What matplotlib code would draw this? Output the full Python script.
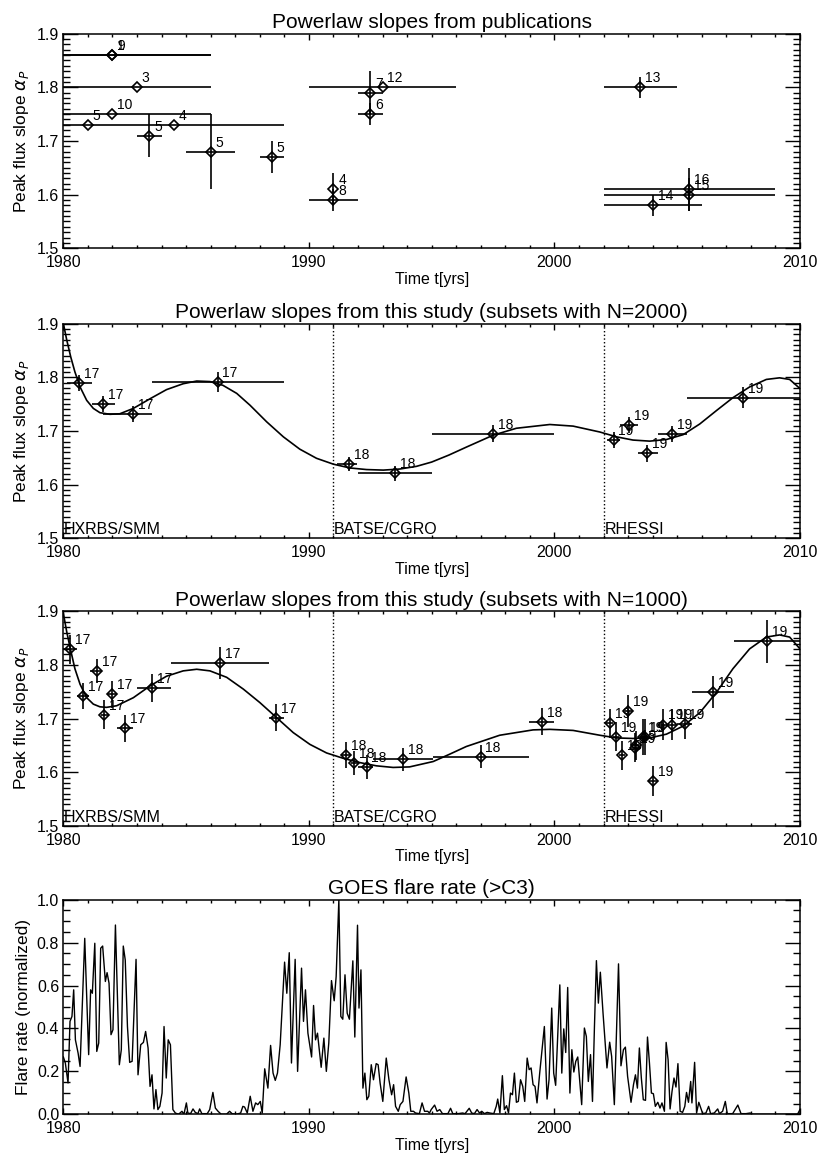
import numpy as np
import matplotlib
matplotlib.use('Agg')
import matplotlib.pyplot as plt
from matplotlib.ticker import MultipleLocator, FormatStrFormatter

plt.rcParams['font.family'] = ['Liberation Sans', 'DejaVu Sans']
plt.rcParams['mathtext.fontset'] = 'dejavusans'

# ---- panel 1: slopes from publications ----
pub_year = [1981.0, 1982.0, 1982.0, 1982.0, 1983.0, 1983.5, 1984.5, 1986.0, 1988.5,
            1991.0, 1991.0, 1992.5, 1992.5, 1993.0, 2003.5, 2004.0, 2005.5, 2005.5]
pub_slope = [1.73, 1.86, 1.86, 1.75, 1.80, 1.71, 1.73, 1.68, 1.67,
             1.61, 1.59, 1.79, 1.75, 1.80, 1.80, 1.58, 1.61, 1.60]
pub_xerr = [0.0, 4.0, 4.0, 4.0, 3.0, 0.5, 4.5, 1.0, 0.5,
            0.0, 1.0, 0.5, 0.5, 3.0, 1.5, 2.0, 3.5, 3.5]
pub_yerr = [0.0, 0.0, 0.0, 0.0, 0.0, 0.04, 0.0, 0.07, 0.03,
            0.03, 0.02, 0.04, 0.02, 0.0, 0.02, 0.02, 0.04, 0.03]
pub_ref = ['5', '9', '1', '10', '3', '5', '4', '5', '5',
           '4', '8', '7', '6', '12', '13', '14', '16', '15']

# ---- panel 2: this study, N=2000 subsets ----
n2_year = [1980.64, 1981.63, 1982.85, 1986.28, 1991.63, 1993.5, 1997.5,
           2002.41, 2003.04, 2003.78, 2004.8, 2007.7]
n2_slope = [1.790, 1.750, 1.732, 1.791, 1.639, 1.621, 1.695,
            1.683, 1.711, 1.658, 1.694, 1.762]
n2_tstart = [1980.14, 1981.15, 1981.63, 1983.6, 1991.13, 1992.0, 1995.0,
             2002.14, 2002.66, 2003.4, 2004.2, 2005.4]
n2_tend = [1981.15, 1982.1, 1983.6, 1989.0, 1991.97, 1995.0, 2000.0,
           2002.66, 2003.4, 2004.2, 2005.4, 2010.0]
n2_yerr = [0.015, 0.015, 0.015, 0.018, 0.013, 0.014, 0.016,
           0.015, 0.015, 0.015, 0.015, 0.019]
n2_ref = ['17', '17', '17', '17', '18', '18', '18', '19', '19', '19', '19', '19']

fit2_year = [1980.0, 1980.14, 1980.3, 1980.47, 1980.68, 1980.95, 1981.22, 1981.49, 1981.9,
             1982.3, 1982.85, 1983.53, 1984.2, 1984.88, 1985.43, 1985.97, 1986.5, 1987.06,
             1987.6, 1988.28, 1988.96, 1989.63, 1990.31, 1991.0, 1991.67, 1992.35, 1993.03,
             1993.7, 1994.38, 1995.0, 1995.7, 1996.42, 1997.5, 1998.45, 1999.81, 2000.76,
             2001.85, 2002.53, 2003.2, 2003.88, 2004.56, 2005.24, 2005.92, 2006.6, 2007.27,
             2007.95, 2008.63, 2009.17, 2009.58, 2010.0]
fit2_slope = [1.900, 1.869, 1.838, 1.810, 1.782, 1.757, 1.742, 1.734, 1.731,
              1.732, 1.742, 1.760, 1.777, 1.788, 1.793, 1.792, 1.785, 1.770,
              1.748, 1.717, 1.689, 1.666, 1.649, 1.638, 1.631, 1.628, 1.627,
              1.629, 1.634, 1.642, 1.655, 1.670, 1.692, 1.705, 1.712, 1.709,
              1.698, 1.689, 1.683, 1.681, 1.684, 1.693, 1.713, 1.738, 1.762,
              1.782, 1.796, 1.799, 1.796, 1.779]

# ---- panel 3: this study, N=1000 subsets ----
n1_year = [1980.27, 1980.79, 1981.36, 1981.67, 1981.99, 1982.52, 1983.62, 1986.38, 1988.68,
           1991.51, 1991.85, 1992.35, 1993.84, 1996.99, 1999.51,
           2002.25, 2002.52, 2002.75, 2003.01, 2003.28, 2003.33, 2003.62, 2003.68, 2004.01,
           2004.42, 2004.8, 2005.3, 2006.45, 2008.65]
n1_slope = [1.829, 1.742, 1.789, 1.707, 1.745, 1.682, 1.757, 1.804, 1.702,
            1.632, 1.617, 1.610, 1.624, 1.629, 1.694,
            1.691, 1.666, 1.632, 1.714, 1.646, 1.650, 1.666, 1.666, 1.583,
            1.689, 1.689, 1.690, 1.750, 1.844]
n1_tstart = [1980.0, 1980.55, 1981.1, 1981.55, 1981.8, 1982.2, 1983.0, 1984.37, 1988.39,
             1991.3, 1991.7, 1992.0, 1992.6, 1995.05, 1998.97,
             2002.1, 2002.4, 2002.65, 2002.88, 2003.15, 2003.15, 2003.5, 2003.5, 2003.8,
             2004.2, 2004.6, 2005.0, 2005.6, 2007.3]
n1_tend = [1980.55, 1981.05, 1981.55, 1981.8, 1982.2, 1982.85, 1984.37, 1988.39, 1989.0,
           1991.7, 1992.0, 1992.6, 1995.05, 1998.97, 2000.0,
           2002.4, 2002.65, 2002.88, 2003.15, 2003.45, 2003.45, 2003.8, 2003.8, 2004.2,
           2004.6, 2005.0, 2005.6, 2007.3, 2010.0]
n1_yerr = [0.027, 0.025, 0.022, 0.027, 0.025, 0.025, 0.026, 0.030, 0.026,
           0.024, 0.022, 0.023, 0.022, 0.021, 0.025,
           0.027, 0.027, 0.027, 0.030, 0.027, 0.027, 0.033, 0.033, 0.028,
           0.028, 0.028, 0.028, 0.030, 0.040]
n1_ref = ['17'] * 9 + ['18'] * 6 + ['19'] * 14

fit1_year = [1980.0, 1980.14, 1980.3, 1980.47, 1980.68, 1980.95, 1981.22, 1981.49, 1981.76,
             1982.17, 1982.85, 1983.53, 1984.2, 1984.88, 1985.43, 1985.97, 1986.65, 1987.33,
             1988.0, 1988.68, 1989.36, 1990.04, 1990.72, 1991.4, 1992.08, 1992.75, 1993.43,
             1994.1, 1995.06, 1995.7, 1996.41, 1997.77, 1999.13, 1999.81, 2000.76, 2001.85,
             2002.53, 2003.2, 2003.88, 2004.56, 2005.24, 2005.92, 2006.6, 2007.27, 2007.95,
             2008.63, 2009.17, 2009.58, 2010.0]
fit1_slope = [1.896, 1.861, 1.827, 1.793, 1.764, 1.739, 1.727, 1.722, 1.721,
              1.724, 1.739, 1.761, 1.779, 1.789, 1.792, 1.789, 1.777, 1.755,
              1.730, 1.702, 1.674, 1.652, 1.636, 1.626, 1.618, 1.612, 1.609,
              1.610, 1.620, 1.633, 1.648, 1.669, 1.679, 1.680, 1.678, 1.669,
              1.664, 1.663, 1.664, 1.671, 1.686, 1.711, 1.749, 1.793, 1.830,
              1.852, 1.856, 1.852, 1.830]

instr_names = ['HXRBS/SMM', 'BATSE/CGRO', 'RHESSI']
instr_start = [1980.0, 1991.0, 2002.0]

# ---- panel 4: GOES flare rate (vertices of the monthly curve) ----
goes_year = [
    1980.00, 1980.08, 1980.19, 1980.27, 1980.35, 1980.42, 1980.49, 1980.60, 1980.68, 1980.87,
    1981.03, 1981.11, 1981.18, 1981.28, 1981.36, 1981.44, 1981.52, 1981.60, 1981.71, 1981.78,
    1981.86, 1981.94, 1982.02, 1982.12, 1982.28, 1982.36, 1982.44, 1982.52, 1982.61, 1982.70,
    1982.80, 1982.96, 1983.04, 1983.15, 1983.26, 1983.35, 1983.45, 1983.53, 1983.61, 1983.69,
    1983.77, 1983.85, 1983.93, 1984.02, 1984.10, 1984.19, 1984.27, 1984.36, 1984.46, 1984.56,
    1984.69, 1984.83, 1984.91, 1985.01, 1985.07, 1985.18, 1985.28, 1985.37, 1985.48, 1985.55,
    1985.64, 1985.86, 1985.96, 1986.09, 1986.19, 1986.30, 1986.43, 1986.64, 1986.77, 1986.87,
    1987.04, 1987.22, 1987.31, 1987.38, 1987.49, 1987.61, 1987.72, 1987.83, 1987.92, 1988.02,
    1988.10, 1988.20, 1988.33, 1988.44, 1988.54, 1988.63, 1988.72, 1988.83, 1989.01, 1989.10,
    1989.20, 1989.29, 1989.44, 1989.54, 1989.70, 1989.78, 1989.86, 1989.96, 1990.11, 1990.19,
    1990.27, 1990.35, 1990.50, 1990.61, 1990.71, 1990.81, 1990.92, 1991.03, 1991.11, 1991.22,
    1991.30, 1991.38, 1991.47, 1991.56, 1991.65, 1991.79, 1991.87, 1991.98, 1992.04, 1992.12,
    1992.20, 1992.28, 1992.36, 1992.44, 1992.54, 1992.63, 1992.74, 1992.82, 1992.90, 1993.01,
    1993.15, 1993.26, 1993.37, 1993.45, 1993.53, 1993.64, 1993.72, 1993.83, 1993.96, 1994.07,
    1994.15, 1994.26, 1994.34, 1994.50, 1994.61, 1994.71, 1994.84, 1994.91, 1994.98, 1995.12,
    1995.22, 1995.33, 1995.44, 1995.66, 1995.77, 1995.86, 1996.07, 1996.26, 1996.36, 1996.53,
    1996.63, 1996.74, 1996.85, 1996.95, 1997.04, 1997.15, 1997.26, 1997.37, 1997.53, 1997.63,
    1997.69, 1997.78, 1997.88, 1997.96, 1998.05, 1998.13, 1998.21, 1998.29, 1998.37, 1998.45,
    1998.53, 1998.62, 1998.71, 1998.79, 1998.89, 1998.97, 1999.05, 1999.13, 1999.21, 1999.29,
    1999.40, 1999.48, 1999.59, 1999.70, 1999.78, 1999.89, 1999.97, 2000.05, 2000.22, 2000.30,
    2000.38, 2000.46, 2000.54, 2000.63, 2000.71, 2000.79, 2000.87, 2000.95, 2001.03, 2001.11,
    2001.22, 2001.30, 2001.38, 2001.47, 2001.55, 2001.63, 2001.71, 2001.79, 2001.87, 2001.98,
    2002.06, 2002.14, 2002.25, 2002.33, 2002.44, 2002.61, 2002.71, 2002.81, 2002.89, 2002.98,
    2003.12, 2003.22, 2003.30, 2003.38, 2003.46, 2003.54, 2003.62, 2003.71, 2003.79, 2003.87,
    2003.95, 2004.03, 2004.11, 2004.21, 2004.30, 2004.38, 2004.48, 2004.55, 2004.63, 2004.71,
    2004.79, 2004.87, 2004.95, 2005.03, 2005.12, 2005.22, 2005.31, 2005.38, 2005.46, 2005.55,
    2005.60, 2005.71, 2005.79, 2005.88, 2005.96, 2006.04, 2006.17, 2006.28, 2006.36, 2006.51,
    2006.65, 2006.72, 2006.85, 2006.96, 2007.04, 2007.26, 2007.47, 2007.60, 2007.80, 2007.97,
    2008.07, 2008.35, 2009.16, 2009.90, 2010.00]
goes_rate = [
    0.267, 0.239, 0.146, 0.433, 0.456, 0.580, 0.347, 0.285, 0.223, 0.820,
    0.278, 0.580, 0.564, 0.797, 0.293, 0.332, 0.774, 0.784, 0.619, 0.660,
    0.611, 0.371, 0.394, 0.882, 0.231, 0.301, 0.784, 0.719, 0.409, 0.242,
    0.247, 0.722, 0.184, 0.324, 0.335, 0.386, 0.309, 0.130, 0.184, 0.025,
    0.115, 0.022, 0.037, 0.099, 0.409, 0.169, 0.347, 0.324, 0.022, 0.006,
    0.000, 0.014, 0.000, 0.053, 0.006, 0.003, 0.025, 0.009, 0.003, 0.025,
    0.003, 0.003, 0.022, 0.102, 0.029, 0.014, 0.000, 0.000, 0.014, 0.003,
    0.000, 0.006, 0.037, 0.034, 0.006, 0.084, 0.014, 0.053, 0.045, 0.060,
    0.006, 0.212, 0.122, 0.321, 0.192, 0.158, 0.192, 0.324, 0.709, 0.564,
    0.753, 0.239, 0.722, 0.200, 0.681, 0.433, 0.580, 0.378, 0.267, 0.507,
    0.347, 0.378, 0.219, 0.355, 0.200, 0.332, 0.623, 0.529, 0.642, 1.000,
    0.456, 0.443, 0.650, 0.471, 0.443, 0.715, 0.360, 0.881, 0.495, 0.673,
    0.122, 0.192, 0.068, 0.084, 0.231, 0.161, 0.236, 0.231, 0.146, 0.060,
    0.262, 0.161, 0.091, 0.138, 0.037, 0.014, 0.045, 0.060, 0.174, 0.099,
    0.014, 0.014, 0.006, 0.003, 0.053, 0.014, 0.014, 0.006, 0.022, 0.043,
    0.014, 0.022, 0.003, 0.003, 0.028, 0.003, 0.003, 0.006, 0.003, 0.028,
    0.006, 0.003, 0.022, 0.006, 0.014, 0.003, 0.009, 0.006, 0.003, 0.037,
    0.071, 0.006, 0.180, 0.022, 0.040, 0.006, 0.099, 0.091, 0.192, 0.056,
    0.060, 0.161, 0.130, 0.060, 0.262, 0.208, 0.216, 0.138, 0.130, 0.053,
    0.192, 0.285, 0.409, 0.071, 0.161, 0.495, 0.192, 0.135, 0.603, 0.192,
    0.398, 0.288, 0.591, 0.099, 0.301, 0.197, 0.247, 0.267, 0.153, 0.045,
    0.402, 0.363, 0.153, 0.278, 0.060, 0.409, 0.716, 0.518, 0.662, 0.471,
    0.347, 0.216, 0.336, 0.270, 0.045, 0.701, 0.226, 0.301, 0.313, 0.177,
    0.056, 0.138, 0.184, 0.122, 0.309, 0.169, 0.068, 0.065, 0.360, 0.239,
    0.099, 0.096, 0.037, 0.056, 0.029, 0.053, 0.014, 0.335, 0.254, 0.025,
    0.107, 0.169, 0.127, 0.236, 0.014, 0.009, 0.037, 0.102, 0.056, 0.153,
    0.053, 0.242, 0.006, 0.056, 0.029, 0.003, 0.006, 0.037, 0.003, 0.006,
    0.025, 0.003, 0.014, 0.060, 0.003, 0.003, 0.043, 0.003, 0.003, 0.006,
    0.000, 0.000, 0.000, 0.000, 0.022]

fig = plt.figure(figsize=(8.23, 11.6), dpi=100)
left, width, height = 0.077, 0.895, 0.185
bottoms = [0.786, 0.536, 0.288, 0.0394]
axes = [fig.add_axes([left, b, width, height]) for b in bottoms]


def style_axis(ax, ymin, ymax, ymajor, yminor, ylabel, title):
    ax.set_xlim(1980, 2010)
    ax.set_ylim(ymin, ymax)
    ax.xaxis.set_major_locator(MultipleLocator(10))
    ax.xaxis.set_minor_locator(MultipleLocator(1))
    ax.yaxis.set_major_locator(MultipleLocator(ymajor))
    ax.yaxis.set_minor_locator(MultipleLocator(yminor))
    ax.yaxis.set_major_formatter(FormatStrFormatter('%.1f'))
    ax.tick_params(which='both', direction='in', top=True, right=True, colors='black')
    ax.tick_params(axis='x', which='major', length=4, width=1.0, pad=5, labelsize=11.5)
    ax.tick_params(axis='x', which='minor', length=2.5, width=1.0)
    ax.tick_params(axis='y', which='major', length=10.5, width=1.0, pad=3, labelsize=11.5)
    ax.tick_params(axis='y', which='minor', length=5.2, width=1.0)
    for sp in ax.spines.values():
        sp.set_linewidth(1.1)
    ax.set_xlabel('Time t[yrs]', fontsize=11.5, labelpad=1)
    ax.set_ylabel(ylabel, fontsize=12.5, labelpad=4)
    ax.set_title(title, fontsize=15, pad=4)


def slope_points(ax, x, y, xlo, xhi, yerr, refs):
    x = np.asarray(x)
    xerr = [x - np.asarray(xlo), np.asarray(xhi) - x]
    ax.errorbar(x, y, xerr=xerr, yerr=yerr, fmt='D', ms=5.6, mfc='none', mec='black',
                mew=1.2, ecolor='black', elinewidth=1.2, capsize=0, color='black')
    for xi, yi, r in zip(x, y, refs):
        ax.annotate(r, (xi, yi), xytext=(3.5, 6.5), textcoords='offset points',
                    fontsize=10, ha='left', va='center')


alpha_label = r'Peak flux slope $\alpha_P$'

# panel 1
ax = axes[0]
style_axis(ax, 1.5, 1.9, 0.1, 0.01, alpha_label, 'Powerlaw slopes from publications')
pub_x = np.asarray(pub_year)
pub_dx = np.asarray(pub_xerr)
slope_points(ax, pub_x, pub_slope, pub_x - pub_dx, pub_x + pub_dx, pub_yerr, pub_ref)

# panels 2 and 3
panel_sets = [
    (axes[1], 'Powerlaw slopes from this study (subsets with N=2000)',
     n2_year, n2_slope, n2_tstart, n2_tend, n2_yerr, n2_ref, fit2_year, fit2_slope),
    (axes[2], 'Powerlaw slopes from this study (subsets with N=1000)',
     n1_year, n1_slope, n1_tstart, n1_tend, n1_yerr, n1_ref, fit1_year, fit1_slope),
]
for ax, title, xs, ys, t0, t1, ye, refs, fx, fy in panel_sets:
    style_axis(ax, 1.5, 1.9, 0.1, 0.01, alpha_label, title)
    ax.plot(fx, fy, color='black', lw=1.2, clip_on=True)
    slope_points(ax, xs, ys, t0, t1, ye, refs)
    for name, t in zip(instr_names, instr_start):
        if t > 1980:
            ax.axvline(t, color='black', ls=':', lw=1.0)
        ax.text(t + 0.03, 1.508, name, fontsize=11.5, ha='left', va='baseline')

# panel 4
ax = axes[3]
style_axis(ax, 0.0, 1.0, 0.2, 0.05, 'Flare rate (normalized)', 'GOES flare rate (>C3)')
ax.plot(goes_year, goes_rate, color='black', lw=1.0)

fig.savefig('out.png', dpi=100)
